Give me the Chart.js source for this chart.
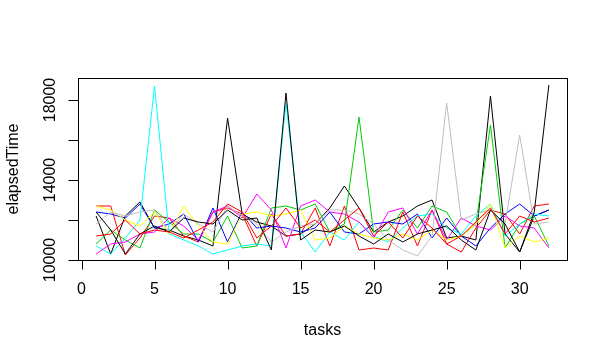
<!DOCTYPE html>
<html>
<head>
<meta charset="utf-8">
<script src="https://cdn.jsdelivr.net/npm/chart.js@4"></script>
<style>
  html, body { margin: 0; padding: 0; background: #fff; }
  #wrap { width: 607px; height: 358px; }
</style>
</head>
<body>
<div id="wrap"><canvas id="myChart" width="607" height="358"></canvas></div>
<script>
// tasks 1..32, elapsed time per run (one array per run)
const tasks = Array.from({ length: 32 }, (_, i) => i + 1);
const xTicks = [0, 5, 10, 15, 20, 25, 30];
const yTicks = [10000, 12000, 14000, 16000, 18000];
const yLabels = [10000, 14000, 18000];

const black1 = [12200, 10300, 12200, 12900, 11600, 11500, 11200, 11000, 10700, 17100, 12300, 11900, 11700, 11200, 11300, 11800, 12600, 13700, 12600, 11400, 11900, 12200, 12700, 13000, 11100, 11200, 11000, 18200, 11300, 10400, 12200, 12500];
const red1 = [12700, 12700, 10250, 11100, 12200, 12100, 11200, 10900, 12400, 12600, 12300, 10700, 12300, 11200, 11300, 12600, 10700, 12700, 10500, 10600, 10500, 12400, 10700, 12500, 10800, 10400, 11600, 12500, 12300, 11300, 12700, 12800];
const green = [10800, 11500, 11000, 10600, 12500, 11900, 11300, 11300, 10900, 12200, 10600, 10700, 12600, 12700, 12500, 12800, 11400, 11800, 17150, 11400, 11500, 12500, 11600, 12700, 12400, 11200, 11800, 16750, 10600, 11800, 12200, 10700];
const blue = [12400, 12300, 12100, 12800, 11600, 11800, 12300, 10900, 12600, 10900, 12400, 11600, 11700, 11600, 11400, 11600, 12400, 11400, 11300, 11800, 11900, 11800, 12300, 11100, 12100, 11200, 10700, 11600, 12300, 12800, 12200, 12500];
const cyan = [10700, 10300, 11100, 12000, 18700, 11300, 11000, 10700, 10300, 10500, 10700, 10800, 10700, 17850, 11400, 10400, 11400, 11000, 11900, 11200, 10900, 11600, 12200, 12300, 11600, 11300, 12200, 12800, 11200, 11800, 12300, 12200];
const magenta = [10300, 10800, 10900, 11300, 11400, 12100, 11700, 11000, 12400, 12700, 12100, 13300, 12500, 10600, 12700, 13000, 12400, 12300, 11900, 11100, 12400, 12600, 11300, 12500, 11000, 12100, 11700, 11500, 12200, 11700, 11600, 10600];
const yellow = [12700, 12500, 12000, 11700, 12400, 11300, 12700, 11700, 10900, 10800, 12300, 12400, 12200, 12300, 12500, 11000, 11100, 11700, 11300, 11100, 11000, 11300, 11000, 11500, 11000, 11200, 11800, 12800, 10600, 11200, 10900, 11100];
const gray = [11800, 12400, 12200, 12400, 12500, 11400, 12300, 11800, 11400, 12700, 12200, 11800, 10900, 11400, 11700, 11800, 12500, 12500, 12300, 11800, 11000, 10500, 10200, 11200, 17850, 12000, 12300, 12500, 11800, 16250, 11800, 11900];
const black2 = [12400, 11500, 10300, 11300, 11700, 11400, 12100, 11900, 11800, 12500, 12000, 12100, 10500, 18350, 11000, 11500, 11400, 11700, 11200, 10800, 11300, 10900, 11300, 11500, 11700, 11000, 10500, 12500, 11800, 10400, 12400, 18750];
const red2 = [11200, 11300, 12000, 11300, 11500, 11400, 11100, 11500, 11900, 12800, 12400, 11100, 11700, 12600, 11600, 12000, 11400, 12000, 12600, 11200, 11900, 11100, 12200, 11600, 10800, 11200, 11900, 12600, 11300, 12200, 11900, 12100];

const runs = [black1, red1, green, blue, cyan, magenta, yellow, gray, black2, red2];
const colors = ['#000000', '#FF0000', '#00CD00', '#0000FF', '#00FFFF', '#FF00FF', '#FFFF00', '#BEBEBE'];

const FONT = '16px "Liberation Sans", Arial, sans-serif';

// R style box, axes and labels, drawn from the chart's scales
const rAxes = {
    id: 'rAxes',
    afterDraw(chart) {
        const { ctx, chartArea: a, scales: { x, y } } = chart;
        ctx.save();
        ctx.strokeStyle = '#000';
        ctx.fillStyle = '#000';
        ctx.lineWidth = 1;
        ctx.strokeRect(a.left + 0.5, a.top + 0.5, a.right - a.left, a.bottom - a.top);

        ctx.font = FONT;
        ctx.textAlign = 'center';
        ctx.textBaseline = 'middle';

        // x axis
        ctx.beginPath();
        xTicks.forEach(t => {
            const px = Math.round(x.getPixelForValue(t)) + 0.5;
            ctx.moveTo(px, a.bottom + 0.5);
            ctx.lineTo(px, a.bottom + 9.5);
        });
        ctx.stroke();
        xTicks.forEach(t => {
            ctx.fillText(String(t), x.getPixelForValue(t), 290);
        });
        ctx.fillText('tasks', (a.left + a.right) / 2, 331);

        // y axis
        ctx.beginPath();
        yTicks.forEach(t => {
            const py = Math.round(y.getPixelForValue(t)) + 0.5;
            ctx.moveTo(a.left + 0.5, py);
            ctx.lineTo(a.left - 9.5, py);
        });
        ctx.stroke();
        yLabels.forEach(t => {
            ctx.save();
            ctx.translate(51, y.getPixelForValue(t));
            ctx.rotate(-Math.PI / 2);
            ctx.fillText(String(t), 0, 0);
            ctx.restore();
        });
        ctx.save();
        ctx.translate(14, (a.top + a.bottom) / 2);
        ctx.rotate(-Math.PI / 2);
        ctx.fillText('elapsedTime', 0, 0);
        ctx.restore();
        ctx.restore();
    }
};

new Chart(document.getElementById('myChart').getContext('2d'), {
    type: 'line',
    data: {
        datasets: runs.map((r, i) => ({
            label: 'run ' + (i + 1),
            data: tasks.map((t, j) => ({ x: t, y: r[j] })),
            borderColor: colors[i % colors.length],
            borderWidth: 1,
            pointRadius: 0,
            tension: 0,
            fill: false,
            order: runs.length - i
        }))
    },
    options: {
        responsive: false,
        animation: false,
        layout: { padding: { left: 78, right: 40, top: 78, bottom: 98 } },
        plugins: { legend: { display: false }, tooltip: { enabled: false } },
        scales: {
            x: { type: 'linear', min: -0.24, max: 33.24, display: false },
            y: { type: 'linear', min: 10000, max: 19100, display: false }
        }
    },
    plugins: [rAxes]
});
</script>
</body>
</html>
